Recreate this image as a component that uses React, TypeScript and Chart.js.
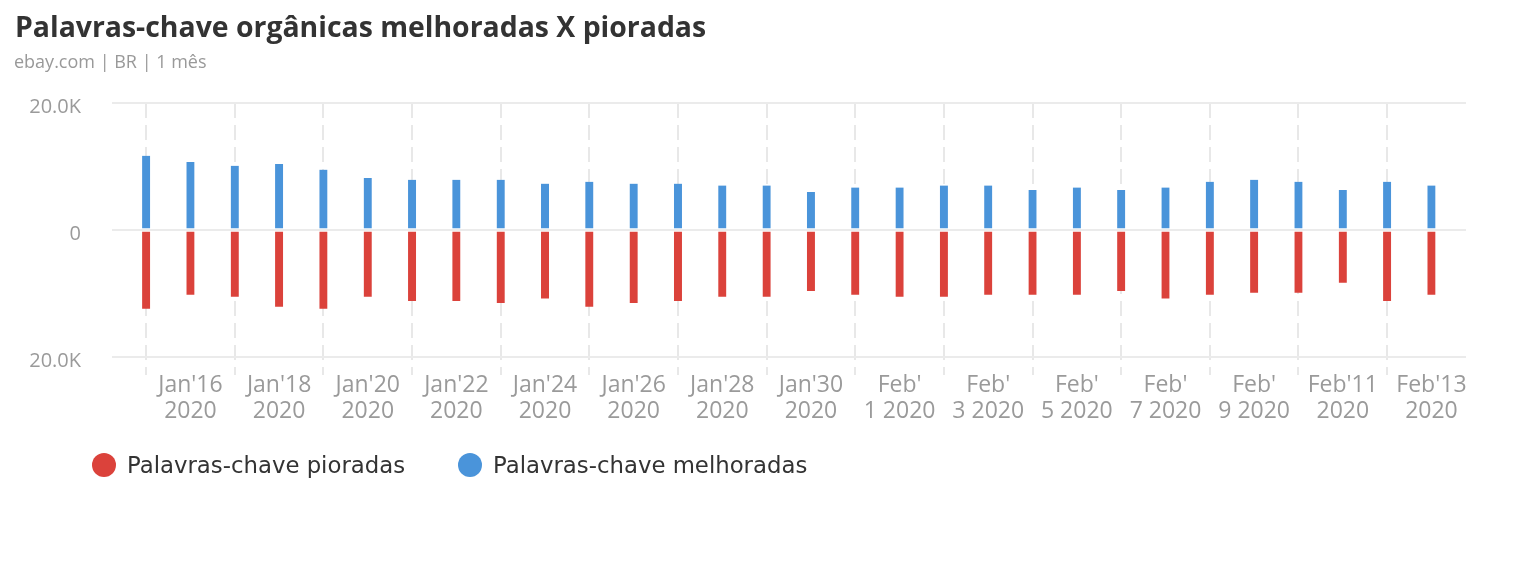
import React, { useEffect, useRef } from "react";
import { Chart, registerables } from "chart.js";

Chart.register(...registerables);

// Days of the period (index 0 = Jan 15 2020 ... index 29 = Feb 13 2020)
const days = [
  "Jan 15 2020", "Jan 16 2020", "Jan 17 2020", "Jan 18 2020", "Jan 19 2020",
  "Jan 20 2020", "Jan 21 2020", "Jan 22 2020", "Jan 23 2020", "Jan 24 2020",
  "Jan 25 2020", "Jan 26 2020", "Jan 27 2020", "Jan 28 2020", "Jan 29 2020",
  "Jan 30 2020", "Jan 31 2020", "Feb 1 2020", "Feb 2 2020", "Feb 3 2020",
  "Feb 4 2020", "Feb 5 2020", "Feb 6 2020", "Feb 7 2020", "Feb 8 2020",
  "Feb 9 2020", "Feb 10 2020", "Feb 11 2020", "Feb 12 2020", "Feb 13 2020",
];

// Palavras-chave melhoradas (improved)
const improved = [
  11700, 10700, 10100, 10400, 9500, 8200, 7900, 7900, 7900, 7300,
  7600, 7300, 7300, 7000, 7000, 6000, 6700, 6700, 7000, 7000,
  6300, 6700, 6300, 6700, 7600, 7900, 7600, 6300, 7600, 7000,
];

// Palavras-chave pioradas (declined), plotted below zero
const declined = [
  -12400, -10200, -10500, -12100, -12400, -10500, -11200, -11200, -11500, -10800,
  -12100, -11500, -11200, -10500, -10500, -9600, -10200, -10500, -10500, -10200,
  -10200, -10200, -9600, -10800, -10200, -9900, -9900, -8300, -11200, -10200,
];

const tickDayIndex = [1, 3, 5, 7, 9, 11, 13, 15, 17, 19, 21, 23, 25, 27, 29];
const tickLabels = [
  ["Jan'16", "2020"], ["Jan'18", "2020"], ["Jan'20", "2020"], ["Jan'22", "2020"],
  ["Jan'24", "2020"], ["Jan'26", "2020"], ["Jan'28", "2020"], ["Jan'30", "2020"],
  ["Feb'", "1 2020"], ["Feb'", "3 2020"], ["Feb'", "5 2020"], ["Feb'", "7 2020"],
  ["Feb'", "9 2020"], ["Feb'11", "2020"], ["Feb'13", "2020"],
];
const yTicks = [-20000, 0, 20000];

const seriesNames = ["Palavras-chave pioradas", "Palavras-chave melhoradas"];

const RED = "#DB423B";
const BLUE = "#4A94DA";

export default function App() {
  const ref = useRef<HTMLCanvasElement>(null);

  useEffect(() => {
    if (!ref.current) return;
    const chart = new Chart(ref.current, {
      type: "bar",
      data: {
        datasets: [
          {
            label: seriesNames[0],
            data: declined.map((v, i) => ({ x: i, y: v, day: days[i] })) as any,
            backgroundColor: RED,
            borderColor: "#ffffff",
            borderWidth: { top: 1, left: 0, right: 0, bottom: 0 },
            borderSkipped: false,
            barThickness: 8,
          },
          {
            label: seriesNames[1],
            data: improved.map((v, i) => ({ x: i, y: v, day: days[i] })) as any,
            backgroundColor: BLUE,
            borderColor: "#ffffff",
            borderWidth: { top: 0, left: 0, right: 0, bottom: 1 },
            borderSkipped: false,
            barThickness: 8,
          },
        ],
      },
      options: {
        responsive: false,
        animation: false,
        layout: { padding: { top: 95, left: 0, right: 42, bottom: 141 } },
        plugins: {
          legend: { display: false },
          tooltip: { enabled: false },
        },
        scales: {
          x: {
            type: "linear",
            min: -0.77,
            max: 29.78,
            stacked: true,
            offset: false,
            afterBuildTicks: (s: any) => {
              s.ticks = tickDayIndex.map((v) => ({ value: v }));
            },
            afterFit: (s: any) => {
              s.height = 70;
            },
            ticks: {
              autoSkip: false,
              maxRotation: 0,
              minRotation: 0,
              padding: -3,
              color: "#9a9a9a",
              font: { family: "'Open Sans'", size: 23, lineHeight: "26px" } as any,
              callback: (v: any) => {
                const k = tickDayIndex.indexOf(Number(v));
                return k >= 0 ? tickLabels[k] : "";
              },
            },
            grid: {
              color: "#e8e8e8",
              lineWidth: 2,
              drawTicks: true,
              tickLength: 18,
              tickColor: "#e8e8e8",
              tickWidth: 2,
              tickBorderDash: [15, 7],
              tickBorderDashOffset: 12,
            },
            border: { display: false, dash: [15, 7] },
          } as any,
          y: {
            min: -20000,
            max: 20000,
            stacked: true,
            afterBuildTicks: (s: any) => {
              s.ticks = yTicks.map((v) => ({ value: v }));
            },
            afterFit: (s: any) => {
              s.width = 104;
            },
            ticks: {
              padding: 31,
              labelOffset: 4,
              color: "#9a9a9a",
              font: { family: "'Open Sans'", size: 20 },
              callback: (v: any) =>
                Number(v) === 0 ? "0" : (Math.abs(Number(v)) / 1000).toFixed(1) + "K",
            },
            grid: { color: "#ebebeb", lineWidth: 2, drawTicks: false },
            border: { display: false },
          } as any,
        },
      },
    });
    return () => chart.destroy();
  }, []);

  const legendItem = (color: string, text: string, left: number) => (
    <div
      style={{
        position: "absolute",
        left,
        top: 445,
        height: 24,
        display: "flex",
        alignItems: "center",
        whiteSpace: "nowrap",
      }}
    >
      <span
        style={{
          display: "inline-block",
          width: 24,
          height: 24,
          borderRadius: "50%",
          background: color,
          marginRight: 11,
        }}
      />
      <span style={{ fontFamily: "'DejaVu Sans'", fontSize: 22.8, color: "#333333", lineHeight: "24px" }}>
        {text}
      </span>
    </div>
  );

  return (
    <div style={{ position: "relative", width: 1500, height: 560, fontFamily: "'Open Sans', sans-serif" }}>
      <canvas ref={ref} width={1500} height={560} style={{ display: "block" }} />
      <div
        style={{
          position: "absolute",
          left: 7,
          top: 0,
          fontSize: 28.4,
          fontWeight: 700,
          color: "#333333",
          lineHeight: "36px",
          whiteSpace: "nowrap",
        }}
      >
        Palavras-chave orgânicas melhoradas X pioradas
      </div>
      <div
        style={{
          position: "absolute",
          left: 6,
          top: 42,
          fontSize: 18,
          color: "#999999",
          lineHeight: "22px",
          whiteSpace: "nowrap",
        }}
      >
        ebay.com | BR | 1 mês
      </div>
      {legendItem(RED, seriesNames[0], 84)}
      {legendItem(BLUE, seriesNames[1], 450)}
    </div>
  );
}
